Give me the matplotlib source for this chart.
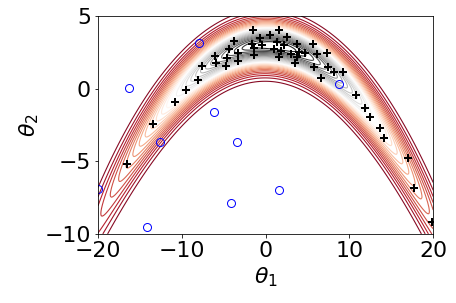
import numpy as np
import matplotlib
matplotlib.use("Agg")
import matplotlib.pyplot as plt

# samples (black crosses)
th1_samples = [-1.46, -0.66, -3.73, -1.65, -0.46, -1.34, -4.33, -3.32, -1.34, -6.03,
               -4.63, -3.32, -5.91, -4.72, -7.62, -8.10, -9.49, -10.8, -13.5, -16.6,
               1.61, 0.54, 2.53, 1.33, 2.24, 5.63, 3.72, 0.98, 1.86, 2.98,
               3.96, 4.68, 6.15, 7.35, 1.61, 3.76, 3.48, 5.83, 7.43, 8.22,
               9.22, 6.63, 10.81, 11.9, 12.5, 13.7, 14.15, 17.05, 17.65, 19.84]
th2_samples = [4.01, 3.51, 3.26, 3.10, 3.03, 2.80, 2.75, 2.48, 2.30, 2.22,
               2.13, 1.90, 1.79, 1.56, 1.54, 0.60, -0.09, -0.90, -2.43, -5.21,
               4.04, 3.69, 3.58, 3.23, 3.03, 3.07, 3.07, 2.71, 2.59, 2.38,
               2.52, 2.43, 2.38, 2.47, 2.20, 2.20, 1.74, 1.51, 1.51, 1.13,
               1.17, 0.73, -0.44, -1.31, -1.93, -2.68, -3.38, -4.75, -6.82, -9.16]

# initial points (blue circles)
th1_init = [-7.92, -16.3, -6.18, 8.81, -12.6, -3.37, -20.0, -4.16, -14.1, 1.55]
th2_init = [3.16, 0.07, -1.59, 0.32, -3.69, -3.69, -6.9, -7.85, -9.54, -7.0]

# banana target density
b = 0.03
s1 = 10.5
m1 = 1.0

def density(t1, t2):
    s2 = np.sqrt(1 + 0.003 * t1**2)
    return np.exp(-(t1 - m1)**2 / (2 * s1**2) - (t2 - 3 + b * t1**2)**2 / (2 * s2**2))

x = np.linspace(-20, 20, 300)
y = np.linspace(-10, 5, 200)
X, Y = np.meshgrid(x, y)
Z = density(X, Y)

plt.rcParams['font.size'] = 22
fig = plt.figure(figsize=(456 / 72, 303 / 72), dpi=72)
ax = fig.add_axes([0.215, 0.228, 0.735, 0.719])

ax.contour(X, Y, Z, levels=np.arange(0.045, 0.99, 0.033), cmap='RdGy',
           vmin=0, vmax=1, linewidths=1.1)
ax.plot(th1_samples, th2_samples, '+', color='black', ms=8, mew=2)
ax.plot(th1_init, th2_init, 'o', mfc='none', mec='blue', ms=8, mew=1)

ax.set_xlim(-20, 20)
ax.set_ylim(-10, 5)
ax.set_xticks([-20, -10, 0, 10, 20])
ax.set_yticks([-10, -5, 0, 5])
ax.set_xlabel(r'$\theta_1$')
ax.set_ylabel(r'$\theta_2$')

fig.savefig('out.png', dpi=72)
